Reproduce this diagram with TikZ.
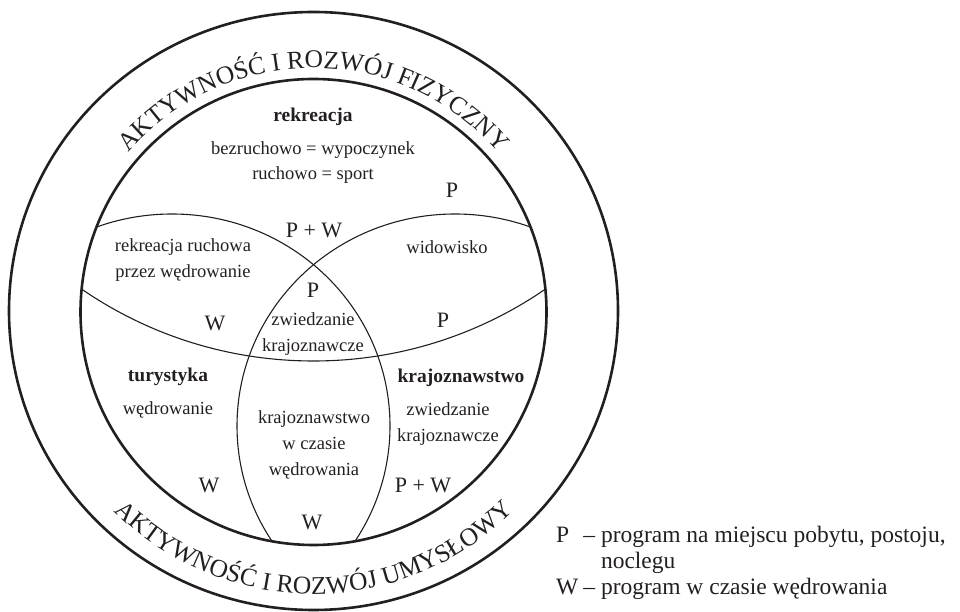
\documentclass[tikz,border=0pt]{standalone}
\usepackage{fontspec}
\setmainfont{Liberation Serif}
\usetikzlibrary{decorations.text}
\definecolor{ink}{HTML}{231F20}

\begin{document}
\begin{tikzpicture}[
  x=1pt, y=1pt,
  ring/.style={draw=ink, line width=2.6pt},
  setline/.style={draw=ink, line width=1.1pt},
  lbl/.style={font=\fontsize{18.5}{26}\selectfont, text=ink, align=center, inner sep=0pt},
  hd/.style={lbl, font=\fontsize{19.5}{26}\selectfont\bfseries},
  pw/.style={font=\fontsize{22}{24}\selectfont, text=ink, inner sep=0pt},
  arctxt/.style={decorate, decoration={text along path, text align=center,
    text color=ink, text={|\fontsize{25.5}{26}\selectfont|#1}}},
]
\useasboundingbox (0,0) rectangle (960,612);

% Rings
\coordinate (O) at (313.5,300);
\draw[ring] (313.5,301) ellipse [x radius=304.5, y radius=299];
\draw[ring] (O) circle [radius=233];

% Ring texts
\path[arctxt={AKTYWNOŚĆ I ROZWÓJ FIZYCZNY}]
  (O) ++(165:244) arc [start angle=165, end angle=15, radius=244];
\path[arctxt={AKTYWNOŚĆ I ROZWÓJ UMYSŁOWY}]
  (O) ++(195:282) arc [start angle=195, end angle=345, radius=282];

% Sets, clipped by the inner circle
\begin{scope}
  \clip (O) circle [radius=233];
  \draw[setline] (313.5,660.7) circle [radius=409.7];
  \draw[setline] (172,186) ellipse [x radius=218, y radius=212];
  \draw[setline] (455,186) ellipse [x radius=218, y radius=212];
\end{scope}

% Region labels
\node[hd]  (rekr)   at (313,495) {rekreacja};
\node[lbl] (bezr)   at (313,462) {bezruchowo = wypoczynek};
\node[lbl] (ruch)   at (313,437) {ruchowo = sport};
\node[pw]  (pR)     at (452,422) {P};
\node[pw]  (pwTop)  at (314,382) {P + W};
\node[lbl] (rekrRu) at (183,352) {rekreacja ruchowa\\przez wędrowanie};
\node[lbl] (widow)  at (447,365) {widowisko};
\node[pw]  (pMid)   at (313,322) {P};
\node[pw]  (wL)     at (215,289) {W};
\node[lbl] (zwMid)  at (313,277.5) {zwiedzanie\\krajoznawcze};
\node[pw]  (pRt)    at (443,292) {P};
\node[hd]  (tur)    at (168,235) {turystyka};
\node[lbl] (wedr)   at (168,202) {wędrowanie};
\node[hd]  (kraj)   at (461,234) {krajoznawstwo};
\node[lbl] (zwRt)   at (448,187.5) {zwiedzanie\\krajoznawcze};
\node[lbl] (krWed)  at (314,167) {krajoznawstwo\\w czasie\\wędrowania};
\node[pw]  (wLow)   at (209,127) {W};
\node[pw]  (pwLow)  at (423,127) {P + W};
\node[pw]  (wBot)   at (312,90) {W};

% Legend
\node[anchor=west, inner sep=0pt, text=ink, font=\fontsize{23.5}{26}\selectfont]
  (legend) at (556,49)
  {\begin{tabular}{@{}l@{\hspace{5pt}}l@{}}
   P & – program na miejscu pobytu, postoju,\\
     & \phantom{– }noclegu\\
   W & – program w czasie wędrowania
   \end{tabular}};

\end{tikzpicture}
\end{document}
